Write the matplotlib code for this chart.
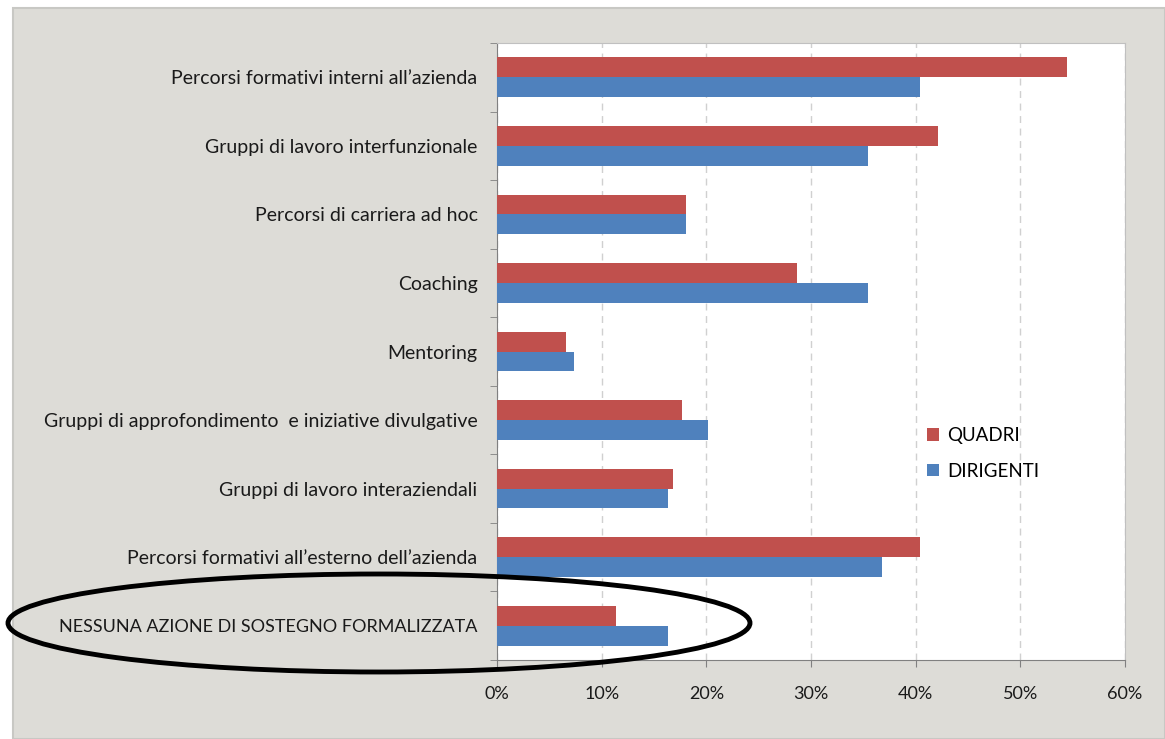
import matplotlib
matplotlib.use("Agg")
import matplotlib.pyplot as plt
from matplotlib.patches import Rectangle, Ellipse
import numpy as np

categories = [
    "Percorsi formativi interni all\u2019azienda",
    "Gruppi di lavoro interfunzionale",
    "Percorsi di carriera ad hoc",
    "Coaching",
    "Mentoring",
    "Gruppi di approfondimento  e iniziative divulgative",
    "Gruppi di lavoro interaziendali",
    "Percorsi formativi all\u2019esterno dell\u2019azienda",
    "NESSUNA AZIONE DI SOSTEGNO FORMALIZZATA",
]
quadri = [54.5, 42.1, 18.1, 28.7, 6.6, 17.7, 16.8, 40.4, 11.4]
dirigenti = [40.4, 35.4, 18.1, 35.4, 7.4, 20.2, 16.3, 36.8, 16.3]
xticks = [0, 10, 20, 30, 40, 50, 60]
xticklabels = ["0%", "10%", "20%", "30%", "40%", "50%", "60%"]

plt.rcParams['font.family'] = ['Lato', 'DejaVu Sans']

W, H = 1165, 739
fig = plt.figure(figsize=(W / 100, H / 100), dpi=100)
fig.patch.set_facecolor("white")

# gray panel background
fig.add_artist(Rectangle((13 / W, 0), 1 - 13 / W, 1 - 8 / H, transform=fig.transFigure,
                         facecolor="#dddcd7", edgecolor="#c8c8c4", linewidth=1.5, zorder=-2))

ax = fig.add_axes([497 / W, 1 - 660 / H, (1125 - 497) / W, (660 - 43) / H])
ax.set_facecolor("white")

red = "#C0504D"
blue = "#4F81BD"
y = np.arange(len(categories))
h = 0.29
ax.barh(y - h / 2, quadri, height=h, color=red, label="QUADRI", zorder=3)
ax.barh(y + h / 2, dirigenti, height=h, color=blue, label="DIRIGENTI", zorder=3)

ax.set_ylim(len(categories) - 0.5, -0.5)
ax.set_xlim(0, 60)
ax.set_yticks(y)
ax.set_yticklabels(categories, fontsize=14, color="#1a1a1a")
ax.get_yticklabels()[-1].set_fontsize(13)
ax.set_yticks(np.arange(-0.5, len(categories)), minor=True)
ax.tick_params(axis="y", which="major", length=0, pad=14)
ax.tick_params(axis="y", which="minor", length=5, color="#808080", direction="out")
ax.set_xticks(xticks)
ax.set_xticklabels(xticklabels, fontsize=13, color="#1a1a1a")
ax.tick_params(axis="x", length=5, color="#808080", direction="out", pad=14)

ax.grid(axis="x", linestyle=(0, (5, 4)), color="#d0d0d0", linewidth=1, zorder=0)
for s in ["top", "right"]:
    ax.spines[s].set_color("#c0c0c0")
for s in ["left", "bottom"]:
    ax.spines[s].set_color("#808080")

leg = ax.legend(loc="upper left", bbox_to_anchor=((910 - 497) / 628, (660 - 410) / 617),
                frameon=False, fontsize=13.5, handlelength=0.65, handleheight=0.65,
                labelspacing=1.0, handletextpad=0.45)

# ellipse highlighting last category
fig.add_artist(Ellipse((379 / W, 1 - 623 / H), 742 / W, 98 / H, transform=fig.transFigure,
                       facecolor="none", edgecolor="black", linewidth=3.5, zorder=10))

fig.savefig("out.png", dpi=100)
